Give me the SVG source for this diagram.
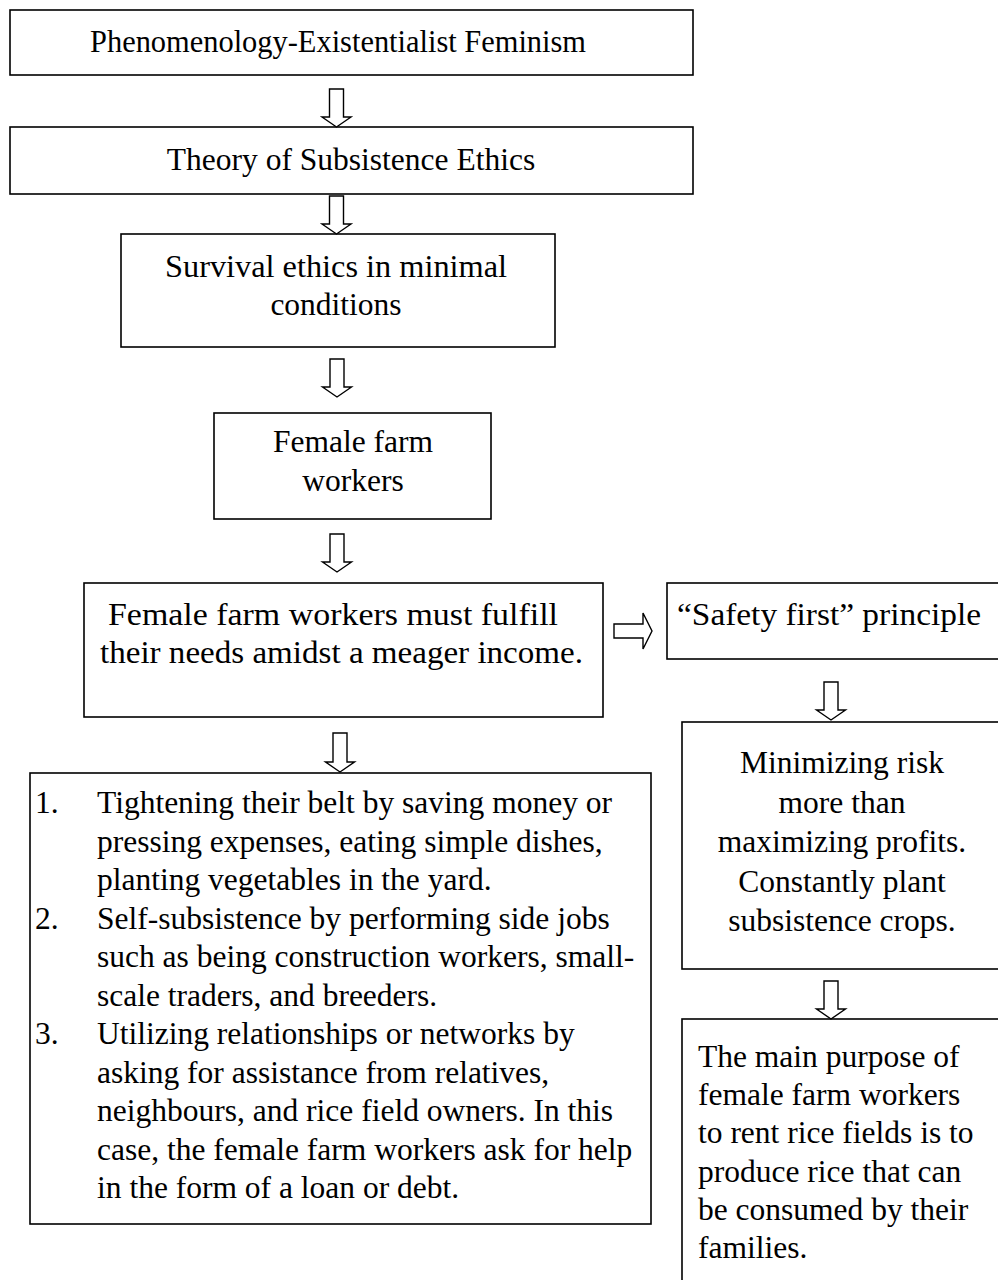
<svg xmlns="http://www.w3.org/2000/svg" width="998" height="1280" viewBox="0 0 998 1280">
<style>
.box{fill:#fff;stroke:#000;stroke-width:1.6}
.arr{fill:#fff;stroke:#000;stroke-width:1.4;stroke-linejoin:miter}
text{font-family:"Liberation Serif","Times New Roman",serif;font-size:31.5px;fill:#000}
.c{text-anchor:middle}
</style>
<rect x="0" y="0" width="998" height="1280" fill="#fff"/>
<g id="n1"><rect class="box" x="10" y="10" width="683" height="65"/><text class="c" x="338" y="52" textLength="496" lengthAdjust="spacingAndGlyphs">Phenomenology-Existentialist Feminism</text></g>
<g id="n2"><rect class="box" x="10" y="127" width="683" height="67"/><text class="c" x="351" y="170">Theory of Subsistence Ethics</text></g>
<g id="n3"><rect class="box" x="121" y="234" width="434" height="113"/><text class="c" x="336" y="277" textLength="342" lengthAdjust="spacingAndGlyphs">Survival ethics in minimal</text><text class="c" x="336" y="315">conditions</text></g>
<g id="n4"><rect class="box" x="214" y="413" width="277" height="106"/><text class="c" x="353" y="452">Female farm</text><text class="c" x="353" y="491">workers</text></g>
<g id="n5"><rect class="box" x="84" y="583" width="519" height="134"/><text class="c" x="333" y="625" textLength="450" lengthAdjust="spacingAndGlyphs">Female farm workers must fulfill</text><text class="c" x="341.5" y="663" textLength="483" lengthAdjust="spacingAndGlyphs">their needs amidst a meager income.</text></g>
<g id="n6"><rect class="box" x="667" y="583" width="345" height="76"/><text class="c" x="829" y="625" textLength="304" lengthAdjust="spacingAndGlyphs">“Safety first” principle</text></g>
<g id="n7"><rect class="box" x="682" y="722" width="330" height="247"/>
<text class="c" x="842" y="773">Minimizing risk</text>
<text class="c" x="842" y="812.5">more than</text>
<text class="c" x="842" y="852">maximizing profits.</text>
<text class="c" x="842" y="891.5">Constantly plant</text>
<text class="c" x="842" y="931">subsistence crops.</text></g>
<g id="n8"><rect class="box" x="30" y="773" width="621" height="451"/>
<text x="35" y="813">1.</text><text x="97" y="813">Tightening their belt by saving money or</text>
<text x="97" y="851.5">pressing expenses, eating simple dishes,</text>
<text x="97" y="890">planting vegetables in the yard.</text>
<text x="35" y="928.5">2.</text><text x="97" y="928.5">Self-subsistence by performing side jobs</text>
<text x="97" y="967">such as being construction workers, small-</text>
<text x="97" y="1005.5">scale traders, and breeders.</text>
<text x="35" y="1044">3.</text><text x="97" y="1044">Utilizing relationships or networks by</text>
<text x="97" y="1082.5">asking for assistance from relatives,</text>
<text x="97" y="1121">neighbours, and rice field owners. In this</text>
<text x="97" y="1159.5">case, the female farm workers ask for help</text>
<text x="97" y="1198">in the form of a loan or debt.</text></g>
<g id="n9"><rect class="box" x="682" y="1019" width="330" height="300"/>
<text x="698" y="1067">The main purpose of</text>
<text x="698" y="1105">female farm workers</text>
<text x="698" y="1143">to rent rice fields is to</text>
<text x="698" y="1182">produce rice that can</text>
<text x="698" y="1220">be consumed by their</text>
<text x="698" y="1258">families.</text></g>
<g id="connectors">
<path class="arr" d="M329.5,89 H343.5 V117 H351 L336.5,127 L322,117 H329.5 Z"/>
<path class="arr" d="M329.5,196 H343.5 V224 H351 L336.5,234 L322,224 H329.5 Z"/>
<path class="arr" d="M330,359 H344 V387 H351.5 L337,397 L322.5,387 H330 Z"/>
<path class="arr" d="M330,534 H344 V562 H351.5 L337,572 L322.5,562 H330 Z"/>
<path class="arr" d="M333,733 H347 V762 H354.5 L340,772 L325.5,762 H333 Z"/>
<path class="arr" d="M824,682 H838 V710 H845.5 L831,720 L816.5,710 H824 Z"/>
<path class="arr" d="M824,981 H838 V1009 H845.5 L831,1019 L816.5,1009 H824 Z"/>
<path class="arr" d="M614,624 H643 V613 L652,631 L643,649 V638 H614 Z"/>
</g>
</svg>
